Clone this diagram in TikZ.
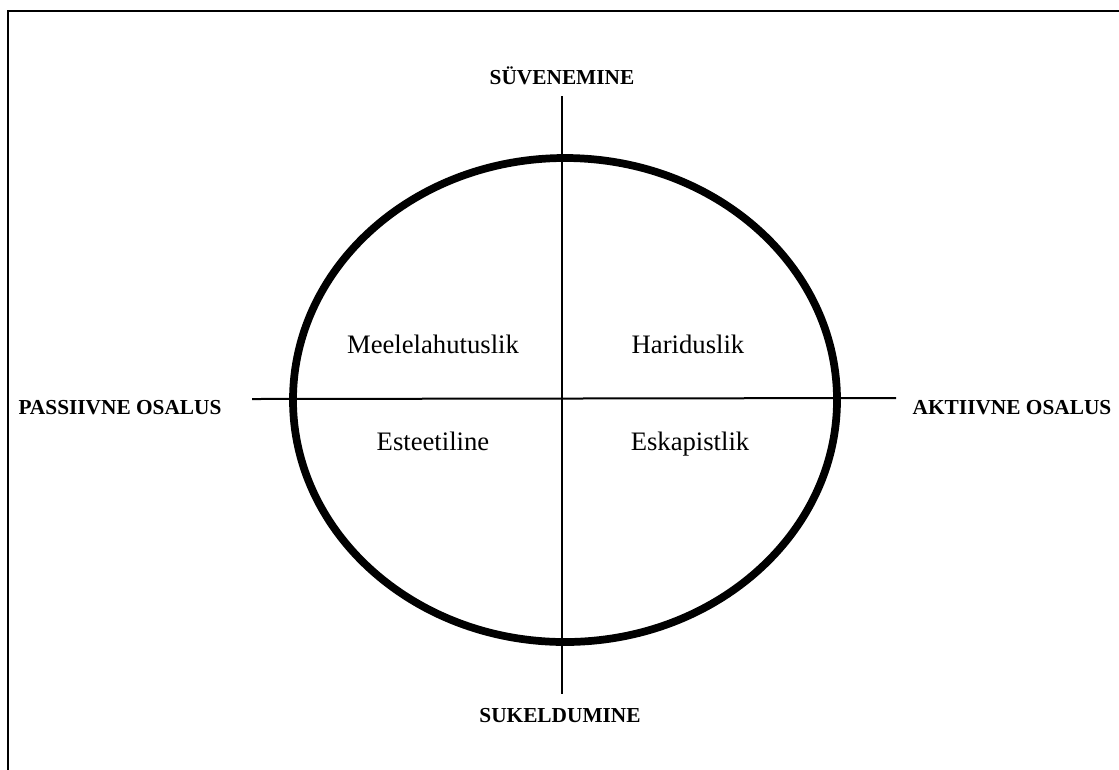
\documentclass[tikz,border=0pt]{standalone}
\usepackage{fontspec}
\setmainfont{Liberation Serif}
\begin{document}
\begin{tikzpicture}[x=0.75pt,y=-0.75pt]
  \tikzset{
    axis/.style   = {line width=1.5pt},
    ring/.style   = {line width=5.8pt},
    pole/.style   = {font=\fontsize{16}{18}\selectfont\bfseries,inner sep=0pt,anchor=base},
    sector/.style = {font=\fontsize{20}{22}\selectfont,inner sep=0pt,anchor=base}
  }
  \useasboundingbox (0,0) rectangle (1119,769);
  \draw[line width=1.5pt] (8,775) -- (8,11) -- (1125,11);
  % ring and axes
  \coordinate (c) at (565,400);
  \draw[ring] (c) ellipse [x radius=272, y radius=242];
  \coordinate (top) at (562,96);
  \coordinate (bottom) at (562,694);
  \coordinate (left) at (252,399);
  \coordinate (right) at (896,398);
  \draw[axis] (top) -- (bottom);
  \draw[axis] (left) -- (right);
  % pole labels
  \node[pole] (deep)  at (562,84)  {SÜVENEMINE};
  \node[pole] (dive)  at (560,722) {SUKELDUMINE};
  \node[pole] (pass)  at (120,414) {PASSIIVNE OSALUS};
  \node[pole] (act)   at (1012,414) {AKTIIVNE OSALUS};
  % sectors
  \node[sector] (fun)  at (433,353) {Meelelahutuslik};
  \node[sector] (edu)  at (688,353) {Hariduslik};
  \node[sector] (aest) at (433,450) {Esteetiline};
  \node[sector] (esc)  at (690,450) {Eskapistlik};
\end{tikzpicture}
\end{document}
